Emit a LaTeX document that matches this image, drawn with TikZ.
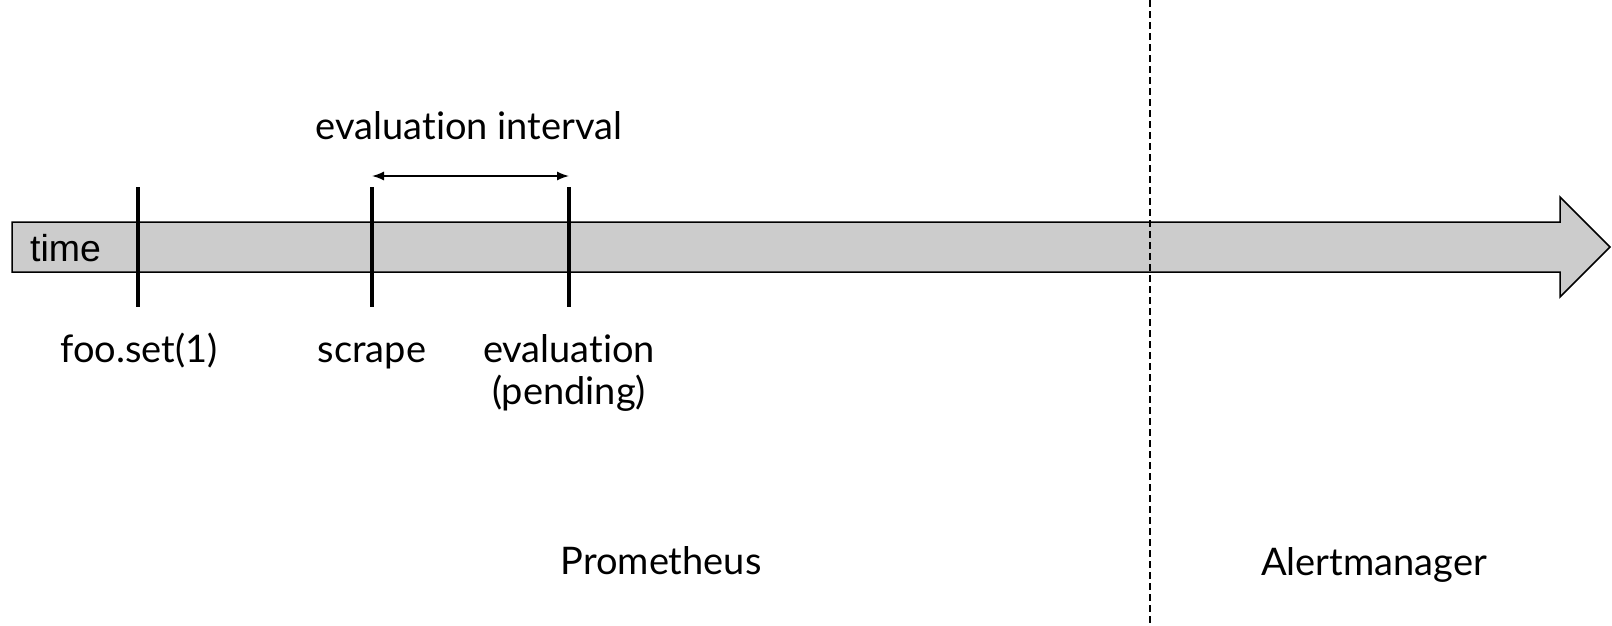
\documentclass[tikz,border=0pt]{standalone}
\usepackage{fontspec}
\setmainfont{Lato}[Ligatures=NoCommon]
\newfontfamily\arialfont{Liberation Sans}
\usetikzlibrary{arrows.meta}
\definecolor{barfill}{HTML}{CCCCCC}
\begin{document}
\begin{tikzpicture}[x=1pt,y=-1pt,
  lbl/.style={font=\fontsize{38}{44}\selectfont, inner sep=0pt, anchor=base},
  tickmark/.style={line width=4pt},
  outline/.style={line width=1.5pt, line join=miter},
  span/.style={line width=1.5pt, {Latex[length=12pt,width=9pt]}-{Latex[length=12pt,width=9pt]}},
  divider/.style={line width=1.5pt, dash pattern=on 7pt off 4pt}]
\useasboundingbox (0,0) rectangle (1612,625);

% the time axis as a block arrow
\draw[outline, fill=barfill] (12,222) -- (1560,222) -- (1560,197) -- (1610,247)
  -- (1560,297) -- (1560,272) -- (12,272) -- cycle;
\node[anchor=base west, inner sep=0pt, font=\arialfont\fontsize{37.5}{42}\selectfont] (time) at (30,261) {time};

% boundary between Prometheus and Alertmanager
\coordinate (divtop) at (1150,0);
\coordinate (divbot) at (1150,625);
\draw[divider] (divtop) -- (divbot);

% events on the axis
\coordinate (setT) at (138,187);  \coordinate (setB) at (138,307);
\coordinate (scrT) at (372,187);  \coordinate (scrB) at (372,307);
\coordinate (evT)  at (569,187);  \coordinate (evB)  at (569,307);
\draw[tickmark] (setT) -- (setB);
\draw[tickmark] (scrT) -- (scrB);
\draw[tickmark] (evT) -- (evB);

% evaluation interval span
\coordinate (spanL) at (372,176);
\coordinate (spanR) at (569,176);
\draw[span] (spanL) -- (spanR);
\node[lbl] (interval) at (469,139) {evaluation interval};

% event labels
\node[lbl] (fooset) at (139,362) {foo.set(1)};
\node[lbl] (scrape) at (372,362) {scrape};
\node[lbl] (evaluation) at (569,362) {evaluation};
\node[lbl] (pending) at (569,404) {(pending)};

% component labels
\node[lbl] (prometheus) at (661,574) {Prometheus};
\node[lbl] (alertmanager) at (1374,575) {Alertmanager};
\end{tikzpicture}
\end{document}
